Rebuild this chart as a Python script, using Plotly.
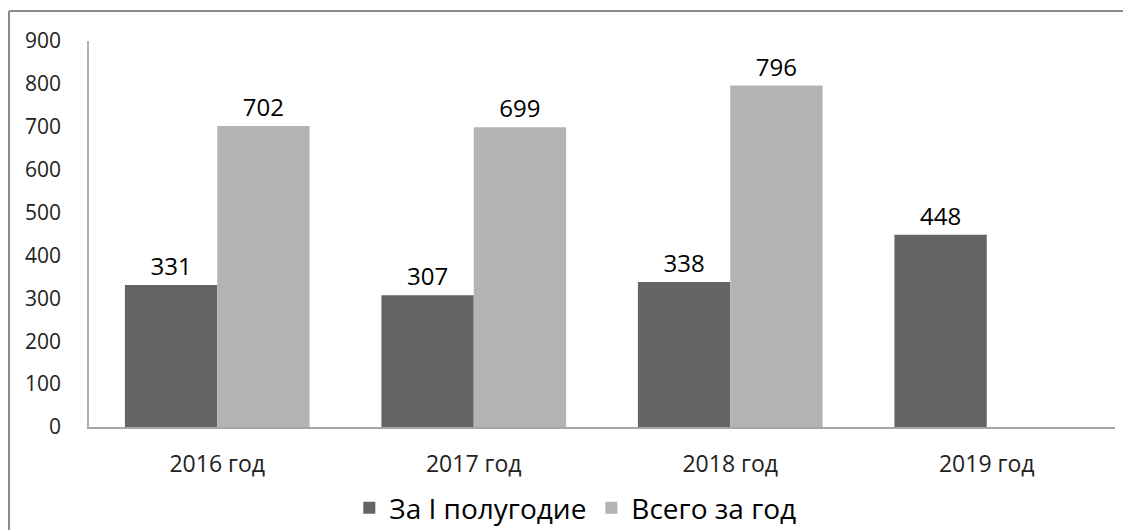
import plotly.graph_objects as go

categories = ["2016 год", "2017 год", "2018 год", "2019 год"]
first_half = [331, 307, 338, 448]
full_year = [702, 699, 796, None]
y_ticks = [0, 100, 200, 300, 400, 500, 600, 700, 800, 900]

FONT = "Open Sans"
DARK = "#646464"
LIGHT = "#b3b3b3"

fig = go.Figure()
fig.add_trace(go.Bar(
    x=categories, y=first_half, name="За I полугодие",
    marker=dict(color=DARK, line=dict(width=0)),
    text=first_half, textposition="outside", cliponaxis=False,
    textfont=dict(size=24, color="#000000", family=FONT),
))
fig.add_trace(go.Bar(
    x=categories, y=full_year, name="Всего за год",
    marker=dict(color=LIGHT, line=dict(width=0)),
    text=[str(v) if v is not None else "" for v in full_year],
    textposition="outside", cliponaxis=False,
    textfont=dict(size=24, color="#000000", family=FONT),
))

# the page body adds an 8px margin, so the figure is a bit smaller than the window
fig.update_layout(
    width=1123, height=522,
    margin=dict(l=81, r=16, t=33, b=103, autoexpand=False),
    paper_bgcolor="white", plot_bgcolor="white",
    barmode="group", bargap=0.28, bargroupgap=0,
    font=dict(family=FONT, color="#222222"),
    showlegend=True,
    legend=dict(orientation="h", x=0.474, xanchor="center", y=-0.21, yanchor="middle",
                font=dict(size=28, color="#000000"), itemwidth=30, traceorder="normal"),
    xaxis=dict(showline=True, linecolor="#a6a6a6", linewidth=1.5, showgrid=False,
               ticks="", tickfont=dict(size=23, color="#222222"), ticklabelstandoff=16),
    yaxis=dict(range=[0, 900], tickvals=y_ticks, showline=True, linecolor="#b0b0b0",
               linewidth=1.5, showgrid=False, zeroline=False, ticks="",
               tickfont=dict(size=21, color="#222222"), ticklabelstandoff=22),
    uniformtext=dict(minsize=24, mode="show"),
)

# outer chart frame: only the top and left edges are inside the picture
frame_top = 1 + (33 - 3) / 386
frame_left = (1 - 81) / 1026
frame = dict(color="#8c8c8c", width=2)
fig.add_shape(type="line", xref="paper", yref="paper", x0=frame_left, x1=1.1,
              y0=frame_top, y1=frame_top, line=frame, layer="below")
fig.add_shape(type="line", xref="paper", yref="paper", x0=frame_left, x1=frame_left,
              y0=-0.4, y1=frame_top, line=frame, layer="below")

fig.write_html("out.html")
